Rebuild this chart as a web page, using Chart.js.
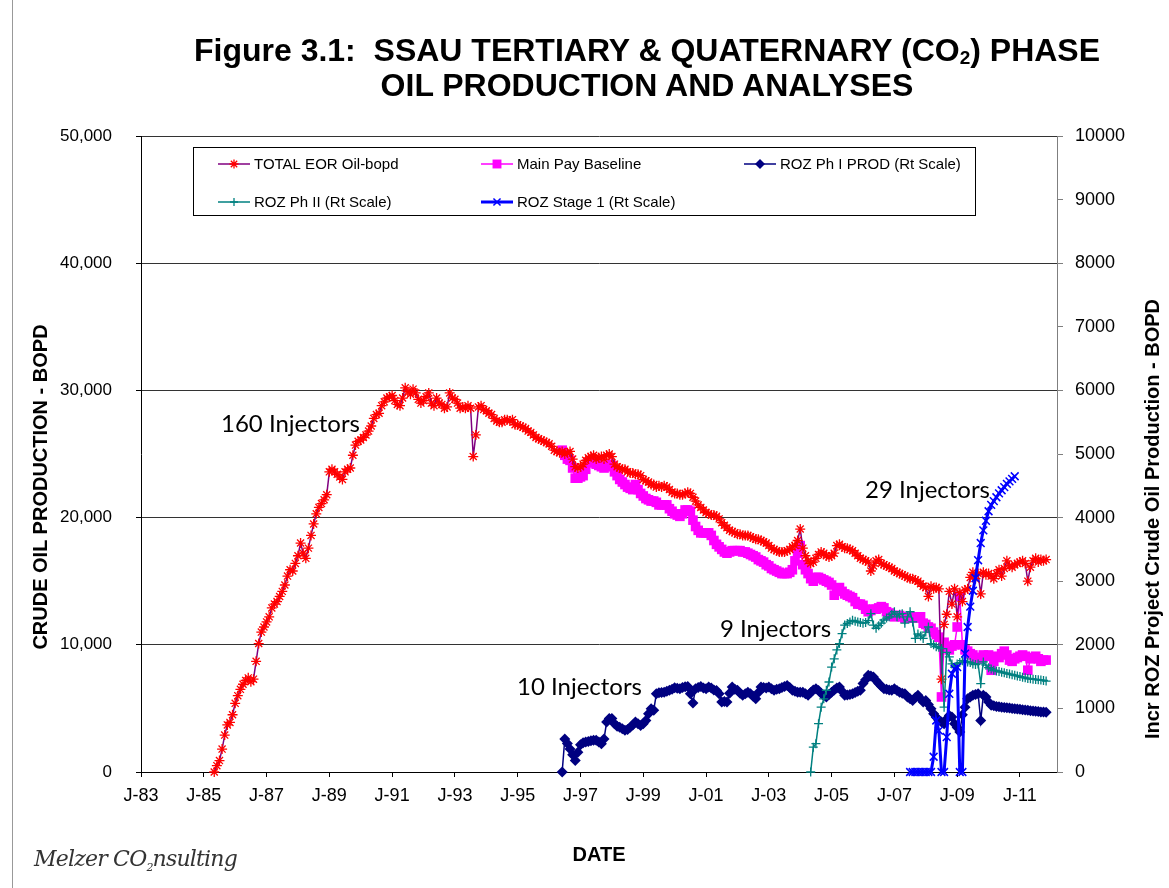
<!DOCTYPE html>
<html>
<head>
<meta charset="utf-8">
<title>SSAU Tertiary &amp; Quaternary (CO2) Phase Oil Production</title>
<script src="https://cdn.jsdelivr.net/npm/chart.js@4.4.1/dist/chart.umd.min.js"></script>
<style>
  html, body { margin: 0; padding: 0; background: #fff; }
  #wrap { position: relative; width: 1169px; height: 888px; overflow: hidden;
          font-family: "Liberation Sans", Arial, sans-serif; color: #000; }
  #chart { position: absolute; left: 0; top: 0; }
  .title { position: absolute; left: 0; width: 1294px; text-align: center; font-weight: bold;
           font-size: 32px; line-height: 32px; white-space: nowrap; }
  .title sub { font-size: 19px; vertical-align: -3px; line-height: 0; }
  .axis-title { position: absolute; font-weight: bold; font-size: 20px; white-space: nowrap;
                transform: translate(-50%, -50%) rotate(-90deg); }
  .note { position: absolute; font-family: Lato, "Open Sans", sans-serif; font-size: 24px;
          line-height: 24px; white-space: nowrap; }
  #sig { position: absolute; left: 34px; top: 846px; font-family: "DejaVu Serif", serif;
         font-style: italic; font-size: 22px; color: #333; white-space: nowrap; letter-spacing: -0.8px; }
  #sig sub { font-size: 11px; }
  #frame { position: absolute; left: 12px; top: -1px; width: 1160px; height: 900px; border-left: 1px solid #999; }
</style>
</head>
<body>
<div id="wrap">
  <canvas id="chart" width="1169" height="888"></canvas>
  <div id="frame"></div>
  <div class="title" style="top:34px">Figure 3.1:&nbsp; SSAU TERTIARY &amp; QUATERNARY (CO<sub>2</sub>) PHASE</div>
  <div class="title" style="top:69px">OIL PRODUCTION AND ANALYSES</div>
  <div class="axis-title" style="left:40px; top:487px">CRUDE OIL PRODUCTION - BOPD</div>
  <div class="axis-title" style="left:1152px; top:519px">Incr ROZ Project Crude Oil Production - BOPD</div>
  <div class="note" style="left:221px; top:411px">160 Injectors</div>
  <div class="note" style="left:865px; top:477px">29 Injectors</div>
  <div class="note" style="left:720px; top:616px">9 Injectors</div>
  <div class="note" style="left:517px; top:674px">10 Injectors</div>
  <div id="sig">Melzer CO<sub>2</sub>nsulting</div>
</div>
<script>
// monthly series; each starts at [year, month]
const xTickYears = [1983, 1985, 1987, 1989, 1991, 1993, 1995, 1997, 1999, 2001, 2003, 2005, 2007, 2009, 2011];
const xTickLabels = ['J-83', 'J-85', 'J-87', 'J-89', 'J-91', 'J-93', 'J-95', 'J-97', 'J-99', 'J-01', 'J-03', 'J-05', 'J-07', 'J-09', 'J-11'];

// TOTAL EOR oil, thousand bopd (left scale)
const totalEorStart = [1985, 5];
const totalEor = [
  0.0, 0.5, 0.9, 1.8, 2.9, 3.7, 3.9, 4.5,
  5.4, 6.0, 6.5, 6.9, 7.2, 7.4, 7.1, 7.3, 8.7, 10.1, 11.0, 11.4,
  11.8, 12.2, 12.9, 13.2, 13.4, 13.8, 14.2, 14.7, 15.4, 15.9, 15.8, 16.4,
  17.0, 18.0, 17.2, 16.8, 17.6, 18.6, 19.5, 20.3, 20.8, 21.1, 21.4, 21.8,
  23.6, 23.8, 23.6, 23.4, 23.2, 23.0, 23.6, 23.8, 23.9, 24.9, 25.7, 26.0,
  26.1, 26.3, 26.5, 26.8, 27.2, 27.8, 28.1, 28.2, 28.8, 29.1, 29.4, 29.5,
  29.6, 29.2, 28.9, 28.8, 29.4, 30.2, 29.9, 29.7, 30.1, 29.8, 29.3, 29.0,
  29.2, 29.5, 29.8, 29.0, 28.8, 29.4, 29.0, 28.9, 28.6, 28.7, 29.8, 29.4,
  29.3, 29.0, 28.6, 28.7, 28.6, 28.8, 28.6, 24.8, 26.5, 28.7, 28.8, 28.5,
  28.4, 28.2, 28.1, 27.8, 27.6, 27.5, 27.5, 27.7, 27.7, 27.6, 27.7, 27.3,
  27.3, 27.2, 27.1, 27.0, 26.8, 26.7, 26.5, 26.3, 26.2, 26.1, 26.0, 25.9,
  25.8, 25.6, 25.3, 25.2, 25.1, 25.2, 25.0, 25.1, 25.2, 24.6, 24.0, 23.9,
  24.0, 24.2, 24.5, 24.7, 24.8, 24.9, 24.6, 24.7, 24.8, 24.6, 24.9, 25.0,
  24.8, 24.2, 24.0, 23.9, 23.8, 23.8, 23.6, 23.5, 23.5, 23.4, 23.4, 23.3,
  23.0, 22.9, 22.8, 22.6, 22.6, 22.4, 22.5, 22.4, 22.5, 22.4, 22.2, 22.0,
  21.9, 21.9, 21.8, 21.8, 21.9, 22.0, 21.9, 21.6, 21.3, 21.0, 20.8, 20.6,
  20.4, 20.3, 20.2, 20.2, 20.1, 19.9, 19.6, 19.4, 19.2, 19.0, 18.9, 18.8,
  18.7, 18.7, 18.6, 18.6, 18.6, 18.5, 18.4, 18.3, 18.3, 18.2, 18.1, 18.0,
  17.8, 17.6, 17.5, 17.4, 17.3, 17.3, 17.3, 17.4, 17.5, 17.7, 17.8, 18.2,
  19.1, 17.6, 17.0, 16.6, 16.4, 16.5, 16.8, 17.1, 17.3, 17.2, 17.0, 16.9,
  17.0, 17.2, 17.8, 17.9, 17.7, 17.6, 17.6, 17.5, 17.4, 17.2, 17.0, 16.8,
  16.7, 16.6, 16.5, 15.8, 16.2, 16.6, 16.7, 16.4, 16.3, 16.2, 16.1, 16.0,
  15.8, 15.7, 15.6, 15.5, 15.4, 15.3, 15.2, 15.2, 15.1, 15.0, 14.8, 14.6,
  14.5, 13.8, 14.6, 14.4, 14.5, 14.4, 7.3, 11.6, 12.4, 14.2, 13.2, 14.4,
  12.2, 14.1, 13.4, 14.3, 14.4, 15.3, 15.7, 15.2, 15.6, 14.0, 15.7, 15.5,
  15.6, 15.4, 15.2, 15.6, 15.9, 15.4, 16.0, 16.6, 16.2, 16.1, 16.3, 16.4,
  16.5, 16.6, 16.4, 15.0, 16.1, 16.6, 16.8, 16.5, 16.7, 16.6, 16.7
];

// Main Pay baseline, thousand bopd (left scale)
const mainPayStart = [1996, 6];
const mainPay = [
  25.3, 24.9, 24.6, 24.5, 23.9, 23.1, 23.1,
  23.2, 23.3, 23.8, 24.3, 24.4, 24.4, 24.2, 24.1, 24.0, 23.9, 24.0, 24.2,
  24.1, 23.6, 23.3, 23.0, 22.8, 22.6, 22.4, 22.3, 22.2, 22.6, 22.2, 21.9,
  21.7, 21.5, 21.4, 21.3, 21.3, 21.2, 21.0, 21.0, 21.0, 21.0, 20.7, 20.5,
  20.3, 20.2, 20.1, 20.3, 20.6, 20.6, 20.5, 19.8, 19.3, 19.0, 18.8, 18.8,
  18.8, 18.8, 18.6, 18.2, 17.9, 17.7, 17.5, 17.3, 17.2, 17.3, 17.4, 17.4,
  17.4, 17.4, 17.3, 17.3, 17.2, 17.1, 17.0, 16.9, 16.7, 16.6, 16.5, 16.3,
  16.2, 16.0, 15.9, 15.8, 15.7, 15.6, 15.6, 15.6, 15.7, 15.9, 16.6, 17.2,
  17.8, 16.3, 15.9, 15.6, 15.2, 15.0, 15.3, 15.3, 15.2, 15.1, 15.0, 14.9,
  14.7, 13.9, 14.4, 14.5, 14.2, 14.0, 13.9, 13.8, 13.7, 13.4, 13.2, 13.2,
  13.1, 12.8, 12.6, 12.7, 12.8, 12.8, 12.9, 13.0, 12.9, 12.6, 12.5, 12.3,
  12.2, 12.3, 12.3, 12.2, 12.1, 12.1, 12.2, 12.2, 12.1, 12.2, 12.2, 11.7,
  11.6, 11.4, 11.3, 11.0, 10.8, 10.6, 5.9, 10.2, 9.8, 9.6, 9.9, 10.0,
  11.4, 13.8, 10.0, 9.6, 9.5, 9.3, 9.2, 9.0, 8.9, 9.0, 9.2, 9.1,
  9.2, 8.0, 8.7, 9.1, 9.0, 9.3, 9.5, 9.2, 8.8, 8.7, 8.9, 9.0,
  9.1, 9.2, 9.1, 8.0, 8.9, 9.0, 9.1, 8.9, 8.7, 8.8, 8.8
];

// ROZ Phase I production, bopd (right scale)
const rozPh1Start = [1996, 6];
const rozPh1 = [
  0, 520, 450, 360, 270, 180, 310,
  430, 460, 470, 480, 490, 500, 500, 470, 445, 520, 785, 840,
  840, 760, 720, 705, 680, 655, 670, 705, 740, 785, 760, 730,
  760, 810, 915, 995, 970, 1230, 1245, 1250, 1255, 1270, 1285, 1300,
  1325, 1315, 1310, 1330, 1340, 1345, 1230, 1085, 1310, 1330, 1345, 1320,
  1310, 1335, 1320, 1290, 1280, 1230, 1100, 1110, 1100, 1240, 1335, 1300,
  1285, 1240, 1205, 1230, 1255, 1230, 1190, 1150, 1250, 1335, 1330, 1320,
  1335, 1310, 1285, 1300, 1310, 1330, 1345, 1360, 1330, 1285, 1270, 1255,
  1255, 1255, 1230, 1205, 1250, 1290, 1310, 1280, 1240, 1200, 1180, 1220,
  1255, 1290, 1320, 1335, 1270, 1205, 1210, 1220, 1230, 1250, 1270, 1285,
  1390, 1450, 1520, 1510, 1495, 1440, 1390, 1350, 1310, 1300, 1290, 1285,
  1310, 1280, 1255, 1240, 1230, 1180, 1150, 1125, 1170, 1205, 1150, 1100,
  1125, 1060, 995, 915, 860, 810, 785, 760, 835, 890, 865, 760,
  700, 630, 900, 1020, 1150, 1180, 1205, 1220, 1230, 810, 1205, 1180,
  1100, 1050, 1040, 1030, 1025, 1020, 1015, 1010, 1005, 1000, 995, 990,
  985, 980, 975, 970, 965, 960, 955, 950, 945, 942, 940
];

// ROZ Phase II, bopd (right scale)
const rozPh2Start = [2004, 5];
const rozPh2 = [
  0, 390, 445, 760, 1020, 1150, 1285, 1415,
  1650, 1780, 1920, 2020, 2175, 2310, 2335, 2360, 2385, 2370, 2360, 2350,
  2340, 2350, 2380, 2490, 2310, 2260, 2300, 2340, 2390, 2420, 2440, 2480,
  2520, 2440, 2480, 2490, 2340, 2440, 2520, 2360, 2100, 2170, 2140, 2100,
  2200, 2280, 2020, 2000, 1970, 1960, 1940, 1020, 1880, 1810, 1700, 1650,
  1700, 1720, 1750, 1740, 1730, 1720, 1700, 1690, 1700, 1390, 1730, 1680,
  1640, 1620, 1600, 1590, 1580, 1570, 1560, 1550, 1540, 1530, 1520, 1510,
  1500, 1490, 1480, 1470, 1465, 1460, 1455, 1450, 1445, 1440, 1430
];

// ROZ Stage 1, bopd (right scale)
const rozStage1Start = [2007, 7];
const rozStage1 = [
  0, 0, 0, 0, 0, 0,
  0, 0, 0, 240, 810, 650, 0, 0, 550, 1230, 1545, 1620,
  1650, 0, 0, 1860, 2280, 2600, 2850, 3050, 3330, 3600, 3800, 3950,
  4100, 4200, 4260, 4320, 4380, 4430, 4480, 4530, 4570, 4610, 4650
];

function monthly(start, values, unit) {
  return values.map((v, i) => ({ x: start[0] + (start[1] - 1 + i) / 12, y: v * unit }));
}

const FONT = "'Liberation Sans', Arial, sans-serif";
Chart.defaults.font.family = FONT;
Chart.defaults.color = '#000';

// legend box drawn inside the plot, two rows
const legendSlots = [
  { ds: 0, x: 218, y: 164 }, { ds: 1, x: 481, y: 164 }, { ds: 2, x: 744, y: 164 },
  { ds: 3, x: 218, y: 202 }, { ds: 4, x: 481, y: 202 }
];

const boxLegend = {
  id: 'boxLegend',
  afterDraw(chart) {
    const ctx = chart.ctx;
    ctx.save();
    ctx.fillStyle = '#fff';
    ctx.fillRect(193.5, 147.5, 782, 68);
    ctx.strokeStyle = '#000';
    ctx.lineWidth = 1;
    ctx.strokeRect(193.5, 147.5, 782, 68);
    legendSlots.forEach(s => {
      const d = chart.data.datasets[s.ds];
      ctx.strokeStyle = d.borderColor;
      ctx.lineWidth = d.borderWidth;
      ctx.beginPath();
      ctx.moveTo(s.x, s.y);
      ctx.lineTo(s.x + 32, s.y);
      ctx.stroke();
      ctx.fillStyle = d.pointBackgroundColor;
      ctx.strokeStyle = d.pointBorderColor;
      ctx.lineWidth = d.pointBorderWidth;
      Chart.helpers.drawPoint(ctx, {
        pointStyle: d.pointStyle, radius: d.pointRadius - 0.5, borderWidth: d.pointBorderWidth, rotation: 0
      }, s.x + 16, s.y);
      ctx.fillStyle = '#000';
      ctx.font = '15px ' + FONT;
      ctx.textBaseline = 'middle';
      ctx.textAlign = 'left';
      ctx.fillText(d.label, s.x + 36, s.y + 1);
    });
    ctx.restore();
  }
};

new Chart(document.getElementById('chart'), {
  type: 'line',
  data: {
    datasets: [
      {
        label: 'TOTAL EOR Oil-bopd', yAxisID: 'y', order: 3,
        data: monthly(totalEorStart, totalEor, 1000),
        borderColor: '#800080', borderWidth: 1.5,
        pointStyle: 'star', pointRadius: 5, pointBorderWidth: 1.3,
        pointBorderColor: '#ff0000', pointBackgroundColor: '#ff0000'
      },
      {
        label: 'Main Pay Baseline', yAxisID: 'y', order: 4,
        data: monthly(mainPayStart, mainPay, 1000),
        borderColor: '#ff00ff', borderWidth: 1.5,
        pointStyle: 'rect', pointRadius: 6.8, pointBorderWidth: 0,
        pointBorderColor: '#ff00ff', pointBackgroundColor: '#ff00ff'
      },
      {
        label: 'ROZ Ph I PROD (Rt Scale)', yAxisID: 'y1', order: 2,
        data: monthly(rozPh1Start, rozPh1, 1),
        borderColor: '#000080', borderWidth: 1.5,
        pointStyle: 'rectRot', pointRadius: 5.5, pointBorderWidth: 0,
        pointBorderColor: '#000080', pointBackgroundColor: '#000080'
      },
      {
        label: 'ROZ Ph II (Rt Scale)', yAxisID: 'y1', order: 1,
        data: monthly(rozPh2Start, rozPh2, 1),
        borderColor: '#008080', borderWidth: 1.5,
        pointStyle: 'cross', pointRadius: 4.5, pointBorderWidth: 1.3,
        pointBorderColor: '#008080', pointBackgroundColor: '#008080'
      },
      {
        label: 'ROZ Stage 1 (Rt Scale)', yAxisID: 'y1', order: 0,
        data: monthly(rozStage1Start, rozStage1, 1),
        borderColor: '#0000ff', borderWidth: 3,
        pointStyle: 'crossRot', pointRadius: 5.5, pointBorderWidth: 1.5,
        pointBorderColor: '#0000ff', pointBackgroundColor: '#0000ff'
      }
    ]
  },
  options: {
    responsive: false,
    animation: false,
    devicePixelRatio: 1,
    events: [],
    layout: { padding: { top: 136, left: 0, right: 0, bottom: 0 } },
    datasets: { line: { tension: 0, clip: false } },
    plugins: { legend: { display: false }, tooltip: { enabled: false } },
    scales: {
      x: {
        type: 'linear', position: 'bottom', min: 1983, max: 2012.18,
        afterBuildTicks: axis => { axis.ticks = xTickYears.map(v => ({ value: v })); },
        afterFit: axis => { axis.height = 116; },
        ticks: {
          autoSkip: false, maxRotation: 0, padding: 8, font: { size: 18 },
          callback: (v) => xTickLabels[xTickYears.indexOf(v)]
        },
        grid: { drawOnChartArea: false, tickLength: 5, tickColor: '#000' },
        border: { color: '#000', width: 1 },
        title: { display: true, text: 'DATE', font: { size: 20, weight: 'bold' }, padding: { top: 0, bottom: 21 } }
      },
      y: {
        position: 'left', min: 0, max: 50000,
        afterFit: axis => { axis.width = 141; },
        ticks: { stepSize: 10000, padding: 24, font: { size: 17 }, callback: v => v.toLocaleString('en-US') },
        grid: { color: '#333', tickLength: 5, tickColor: '#000' },
        border: { color: '#000', width: 1 }
      },
      y1: {
        position: 'right', min: 0, max: 10000,
        afterFit: axis => { axis.width = 112; },
        ticks: { stepSize: 1000, padding: 12, font: { size: 18 }, callback: v => String(v) },
        grid: { drawOnChartArea: false, tickLength: 6, tickColor: '#7f7f7f' },
        border: { color: '#7f7f7f', width: 1 }
      }
    }
  },
  plugins: [boxLegend]
});
</script>
</body>
</html>
